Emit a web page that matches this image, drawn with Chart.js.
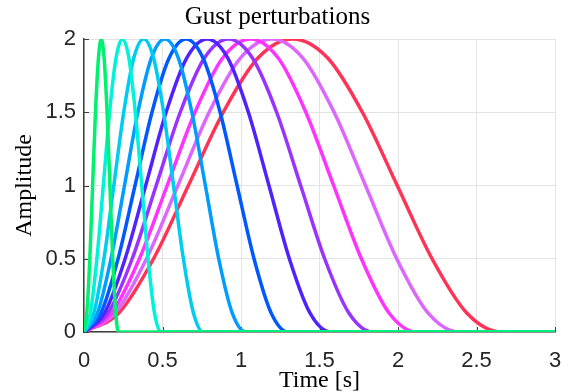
<!DOCTYPE html>
<html>
<head>
<meta charset="utf-8">
<script src="https://cdn.jsdelivr.net/npm/chart.js@4/dist/chart.umd.min.js"></script>
<style>
  html, body { margin: 0; padding: 0; background: #fff; }
</style>
</head>
<body>
<canvas id="gust" width="569" height="392"></canvas>
<script>
// gust colours, shortest gust first
const gustColors = ['#00f070', '#00f2d8', '#00ccf0', '#009cff', '#0058ff', '#5022ff', '#9933ff', '#ff33ff', '#dd66ff', '#ff3355'];

// sample times [s] read along each gust, last point is the flat tail at 3 s
const time1  = [0, 0.018, 0.037, 0.055, 0.073, 0.092, 0.11, 0.128, 0.147, 0.165, 0.183, 0.202, 0.22, 3];
const time2  = [0, 0.041, 0.082, 0.123, 0.163, 0.204, 0.245, 0.286, 0.327, 0.368, 0.408, 0.449, 0.49, 3];
const time3  = [0, 0.063, 0.127, 0.19, 0.253, 0.317, 0.38, 0.443, 0.507, 0.57, 0.633, 0.697, 0.76, 3];
const time4  = [0, 0.086, 0.172, 0.258, 0.343, 0.429, 0.515, 0.601, 0.687, 0.773, 0.858, 0.944, 1.03, 3];
const time5  = [0, 0.108, 0.217, 0.325, 0.433, 0.542, 0.65, 0.758, 0.867, 0.975, 1.083, 1.192, 1.3, 3];
const time6  = [0, 0.131, 0.262, 0.393, 0.523, 0.654, 0.785, 0.916, 1.047, 1.178, 1.308, 1.439, 1.57, 3];
const time7  = [0, 0.153, 0.307, 0.46, 0.613, 0.767, 0.92, 1.073, 1.227, 1.38, 1.533, 1.687, 1.84, 3];
const time8  = [0, 0.177, 0.353, 0.53, 0.707, 0.883, 1.06, 1.237, 1.413, 1.59, 1.767, 1.943, 2.12, 3];
const time9  = [0, 0.199, 0.398, 0.598, 0.797, 0.996, 1.195, 1.394, 1.593, 1.793, 1.992, 2.191, 2.39, 3];
const time10 = [0, 0.222, 0.443, 0.665, 0.887, 1.108, 1.33, 1.552, 1.773, 1.995, 2.217, 2.438, 2.66, 3];
const gustTimes = [time1, time2, time3, time4, time5, time6, time7, time8, time9, time10];

// amplitude read at those sample times (same for every gust)
const amplitude = [0, 0.13, 0.5, 1, 1.5, 1.87, 2, 1.87, 1.5, 1, 0.5, 0.13, 0, 0];

const xTicks = [0, 0.5, 1, 1.5, 2, 2.5, 3];
const yTicks = [0, 0.5, 1, 1.5, 2];

const serif = "'Liberation Serif', 'Times New Roman', serif";
const sans = "'Liberation Sans', Arial, sans-serif";

const datasets = gustTimes.map((times, i) => ({
	label: 'gust ' + (i + 1),
	data: times.map((t, j) => ({ x: t, y: amplitude[j] })),
	borderColor: gustColors[i],
	borderWidth: 3.5,
	pointRadius: 0,
	showLine: true,
	fill: false,
	cubicInterpolationMode: 'monotone'
}));

// small inward ticks on the left and bottom axes, like the matlab figure
const innerTicks = {
	id: 'innerTicks',
	beforeDatasetsDraw(chart) {
		const { ctx, chartArea, scales } = chart;
		ctx.save();
		ctx.strokeStyle = '#404040';
		ctx.lineWidth = 1;
		ctx.beginPath();
		xTicks.forEach(v => {
			const px = Math.round(scales.x.getPixelForValue(v)) + 0.5;
			ctx.moveTo(px, chartArea.bottom);
			ctx.lineTo(px, chartArea.bottom - 5);
		});
		yTicks.forEach(v => {
			const py = Math.round(scales.y.getPixelForValue(v)) + 0.5;
			ctx.moveTo(chartArea.left, py);
			ctx.lineTo(chartArea.left + 5, py);
		});
		ctx.stroke();
		ctx.restore();
	}
};

new Chart(document.getElementById('gust'), {
	type: 'scatter',
	data: { datasets: datasets },
	plugins: [innerTicks],
	options: {
		responsive: false,
		animation: false,
		layout: { padding: { top: 0, right: 14, bottom: 0, left: 0 } },
		plugins: {
			legend: { display: false },
			tooltip: { enabled: false },
			title: {
				display: true,
				text: 'Gust perturbations',
				color: '#000',
				font: { family: serif, size: 25, weight: 'normal' },
				padding: { top: 2, bottom: 7 }
			}
		},
		scales: {
			x: {
				type: 'linear',
				min: 0,
				max: 3,
				afterBuildTicks: scale => { scale.ticks = xTicks.map(v => ({ value: v })); },
				afterFit: scale => {
					scale.height = 60;
					scale.paddingLeft = 0;
					scale.paddingRight = 0;
				},
				ticks: {
					color: '#262626',
					font: { family: sans, size: 22 },
					padding: 16,
					maxRotation: 0,
					callback: v => String(v)
				},
				grid: { color: '#e3e3e3', drawTicks: false },
				border: { color: '#404040', width: 1.5 },
				title: {
					display: true,
					text: 'Time [s]',
					color: '#000',
					font: { family: serif, size: 24 },
					padding: { top: 0, bottom: -3 }
				}
			},
			y: {
				type: 'linear',
				min: 0,
				max: 2,
				afterBuildTicks: scale => { scale.ticks = yTicks.map(v => ({ value: v })); },
				afterFit: scale => { scale.width = 84; },
				ticks: {
					color: '#262626',
					font: { family: sans, size: 22 },
					padding: 8,
					callback: v => String(v)
				},
				grid: { color: '#e3e3e3', drawTicks: false },
				border: { color: '#404040', width: 1.5 },
				title: {
					display: true,
					text: 'Amplitude',
					color: '#000',
					font: { family: serif, size: 24 },
					padding: { top: 10, bottom: 0 }
				}
			}
		}
	}
});
</script>
</body>
</html>
